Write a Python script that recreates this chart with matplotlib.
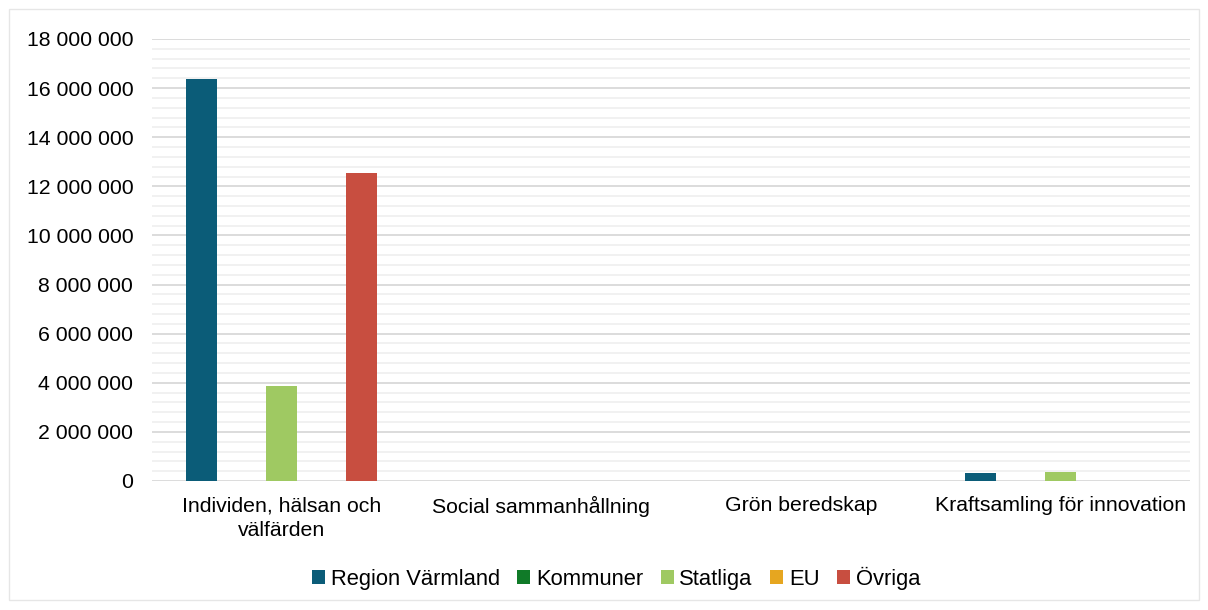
import numpy as np
import matplotlib.pyplot as plt
from matplotlib.patches import Rectangle
from matplotlib.ticker import MultipleLocator, FuncFormatter

plt.rcParams['font.family'] = ['Liberation Sans', 'DejaVu Sans']

categories = ['Individen, hälsan och\nvälfärden', 'Social sammanhållning',
              'Grön beredskap', 'Kraftsamling för innovation']
series = ['Region Värmland', 'Kommuner', 'Statliga', 'EU', 'Övriga']
values = {
    'Region Värmland': [16380000, 0, 0, 310000],
    'Kommuner':        [0, 0, 0, 0],
    'Statliga':        [3870000, 0, 0, 360000],
    'EU':              [0, 0, 0, 0],
    'Övriga':          [12540000, 0, 0, 0],
}
colors = ['#0b5c78', '#107a28', '#9fc962', '#e6a620', '#c84e40']

fig = plt.figure(figsize=(12.08, 6.10), dpi=100)
ax = fig.add_axes([152/1208, 1-481/610, (1190-152)/1208, (481-39)/610])

# light frame around the chart
fig.patches.append(Rectangle((9/1208, 1-600/610), 1190/1208, 591/610,
                             transform=fig.transFigure, fill=False,
                             edgecolor='#e6e6e6', linewidth=1))

x = np.arange(len(categories))
pitch = 40/259.5
width = 31/259.5
for i, (s, c) in enumerate(zip(series, colors)):
    ax.bar(x + (i-2)*pitch, values[s], width, color=c, label=s, zorder=3)

ax.set_xlim(-0.5, len(categories)-0.5)
ax.set_ylim(0, 18000000)
ax.yaxis.set_major_locator(MultipleLocator(2000000))
ax.yaxis.set_minor_locator(MultipleLocator(400000))
ax.yaxis.set_major_formatter(FuncFormatter(lambda v, p: f'{int(v):,}'.replace(',', ' ')))
ax.grid(axis='y', which='major', color='#d9d9d9', linewidth=1.3, zorder=0)
ax.grid(axis='y', which='minor', color='#f0f0f0', linewidth=1.3, zorder=0)
ax.set_axisbelow(True)

ax.set_xticks(x)
ax.set_xticklabels(categories, fontsize=15.3, linespacing=1.35)
ax.tick_params(axis='both', length=0, labelsize=15.3, colors='#000000')
ax.tick_params(axis='x', pad=11)
ax.tick_params(axis='y', pad=13.5, which='both', length=0)
for sp in ax.spines.values():
    sp.set_visible(False)

fig.legend(loc='center', bbox_to_anchor=(616/1208, 1-578/610), ncol=5, frameon=False,
           fontsize=15.8, handlelength=0.6, handleheight=0.6, handletextpad=0.25,
           columnspacing=0.8)

fig.savefig('out.png', dpi=100)
